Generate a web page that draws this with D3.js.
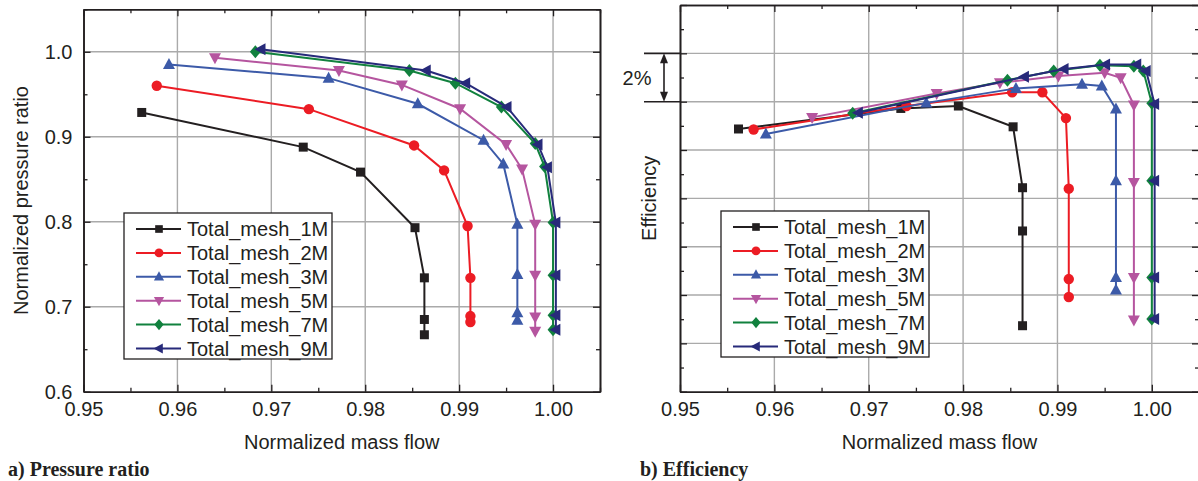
<!DOCTYPE html>
<html>
<head>
<meta charset="utf-8">
<script src="https://cdn.jsdelivr.net/npm/d3@7"></script>
<style>
  body { margin: 0; background: #fff; }
  text { font-family: "Liberation Sans", Arial, sans-serif; }
  text.caption { font-family: "Liberation Serif", "Times New Roman", serif; font-weight: bold; }
</style>
</head>
<body>
<div id="chart"></div>
<script>
// series labels
var seriesNames = ["Total_mesh_1M", "Total_mesh_2M", "Total_mesh_3M", "Total_mesh_5M", "Total_mesh_7M", "Total_mesh_9M"];

// normalized mass flow for each mesh (same operating points in both panels)
var flow1M = [0.9562, 0.9734, 0.9795, 0.9853, 0.9863, 0.9863, 0.9863];
var flow2M = [0.9578, 0.9740, 0.9852, 0.9884, 0.9909, 0.9912, 0.9912, 0.9912];
var flow3M = [0.9591, 0.9761, 0.9856, 0.9926, 0.9947, 0.9962, 0.9962, 0.9962, 0.9962];
var flow5M = [0.9640, 0.9772, 0.9839, 0.9901, 0.9950, 0.9967, 0.9981, 0.9981, 0.9981, 0.9981];
var flow7M = [0.9683, 0.9847, 0.9896, 0.9945, 0.9981, 0.9991, 1.0000, 1.0000, 1.0000, 1.0000];
var flow9M = [0.9689, 0.9865, 0.9907, 0.9951, 0.9984, 0.9994, 1.0003, 1.0003, 1.0003, 1.0003];

// normalized pressure ratio
var pr1M = [0.9286, 0.8878, 0.8584, 0.793, 0.734, 0.685, 0.667];
var pr2M = [0.960, 0.9325, 0.8898, 0.8604, 0.795, 0.734, 0.689, 0.682];
var pr3M = [0.985, 0.969, 0.9388, 0.896, 0.868, 0.797, 0.738, 0.693, 0.684];
var pr5M = [0.993, 0.978, 0.961, 0.933, 0.891, 0.862, 0.797, 0.737, 0.688, 0.671];
var pr7M = [1.000, 0.978, 0.963, 0.935, 0.892, 0.865, 0.799, 0.737, 0.690, 0.673];
var pr9M = [1.003, 0.978, 0.963, 0.935, 0.891, 0.864, 0.799, 0.737, 0.690, 0.673];

// efficiency (no labels on the axis, only the 2% bracket)
var eff1M = [0.9487, 0.9572, 0.9582, 0.9496, 0.9244, 0.9065, 0.8673];
var eff2M = [0.9485, 0.9582, 0.9639, 0.9639, 0.9532, 0.924, 0.8866, 0.8792];
var eff3M = [0.9466, 0.9595, 0.9655, 0.9672, 0.9665, 0.9570, 0.9273, 0.8872, 0.8821];
var eff5M = [0.9535, 0.9634, 0.9678, 0.9706, 0.972, 0.9699, 0.9586, 0.9266, 0.8872, 0.8697];
var eff7M = [0.9552, 0.9689, 0.9727, 0.9751, 0.9747, 0.9727, 0.9593, 0.9273, 0.8872, 0.8701];
var eff9M = [0.9554, 0.9703, 0.9735, 0.9754, 0.9754, 0.9727, 0.9590, 0.9273, 0.8872, 0.8701];

// tick values
var xTicks = [0.95, 0.96, 0.97, 0.98, 0.99, 1.00];
var xMinorTicks = [0.955, 0.965, 0.975, 0.985, 0.995, 1.005];
var prTicks = [0.6, 0.7, 0.8, 0.9, 1.0];
var prMinorTicks = [0.65, 0.75, 0.85, 0.95, 1.05];
var effTicks = [0.84, 0.86, 0.88, 0.90, 0.92, 0.94, 0.96, 0.98, 1.00];
var effMinorTicks = [0.85, 0.87, 0.89, 0.91, 0.93, 0.95, 0.97, 0.99];

var colors = ["#231f20", "#ec1c24", "#3c5aa8", "#b5559f", "#11813e", "#272a7a"];
var shapes = ["square", "circle", "up", "down", "diamond", "left"];

var flows = [flow1M, flow2M, flow3M, flow5M, flow7M, flow9M];
var prs = [pr1M, pr2M, pr3M, pr5M, pr7M, pr9M];
var effs = [eff1M, eff2M, eff3M, eff5M, eff7M, eff9M];

var width = 1198, height = 481;
var svg = d3.select("#chart").append("svg")
    .attr("width", width)
    .attr("height", height);

function markerPath(shape, s) {
    s = s || 1;
    if (shape == "up") return "M0," + (-6.5 * s) + "L" + (6 * s) + "," + (4.5 * s) + "L" + (-6 * s) + "," + (4.5 * s) + "Z";
    if (shape == "down") return "M0," + (6.5 * s) + "L" + (6 * s) + "," + (-4.5 * s) + "L" + (-6 * s) + "," + (-4.5 * s) + "Z";
    if (shape == "diamond") return "M0," + (-6.5 * s) + "L" + (5.5 * s) + ",0L0," + (6.5 * s) + "L" + (-5.5 * s) + ",0Z";
    if (shape == "left") return "M" + (-6.5 * s) + ",0L" + (4.5 * s) + "," + (-6 * s) + "L" + (4.5 * s) + "," + (6 * s) + "Z";
    if (shape == "square") return "M" + (-4.5 * s) + "," + (-4.5 * s) + "h" + (9 * s) + "v" + (9 * s) + "h" + (-9 * s) + "Z";
    // circle
    var r = 5.2 * s;
    return "M" + (-r) + ",0a" + r + "," + r + " 0 1,0 " + (2 * r) + ",0a" + r + "," + r + " 0 1,0 " + (-2 * r) + ",0Z";
}

function drawPanel(cfg) {
    var g = svg.append("g");
    var x = d3.scaleLinear().domain([0.95, 1.005]).range([cfg.left, cfg.right]);
    var y = d3.scaleLinear().domain(cfg.yDomain).range([cfg.bottom, cfg.top]);

    // grid
    g.append("g").selectAll("line")
        .data(xTicks.slice(1))
        .join("line")
        .attr("x1", d => x(d)).attr("x2", d => x(d))
        .attr("y1", cfg.top).attr("y2", cfg.bottom)
        .attr("stroke", "#aaaaaa").attr("stroke-width", 1.4);
    g.append("g").selectAll("line")
        .data(cfg.yGrid)
        .join("line")
        .attr("x1", cfg.left).attr("x2", cfg.right)
        .attr("y1", d => y(d)).attr("y2", d => y(d))
        .attr("stroke", "#aaaaaa").attr("stroke-width", 1.4);

    // series
    var line = d3.line().x(d => x(d[0])).y(d => y(d[1]));
    seriesNames.forEach(function(name, i) {
        var pts = d3.zip(flows[i], cfg.values[i]);
        g.append("path")
            .datum(pts)
            .attr("d", line)
            .attr("fill", "none")
            .attr("stroke", colors[i])
            .attr("stroke-width", 2);
        g.append("g").selectAll("path")
            .data(pts)
            .join("path")
            .attr("transform", d => "translate(" + x(d[0]) + "," + y(d[1]) + ")")
            .attr("d", markerPath(shapes[i]))
            .attr("fill", colors[i]);
    });

    // legend
    var lg = g.append("g").attr("transform", "translate(" + cfg.legendX + "," + cfg.legendY + ")");
    lg.append("rect")
        .attr("width", 208).attr("height", 146)
        .attr("fill", "#fff").attr("stroke", "#231f20").attr("stroke-width", 1.3);
    seriesNames.forEach(function(name, i) {
        var row = lg.append("g").attr("transform", "translate(0," + (16 + i * 23.9) + ")");
        row.append("line")
            .attr("x1", 12).attr("x2", 57)
            .attr("stroke", colors[i]).attr("stroke-width", 2);
        row.append("path")
            .attr("transform", "translate(35,0)")
            .attr("d", markerPath(shapes[i], 0.85))
            .attr("fill", colors[i]);
        row.append("text")
            .attr("x", 63).attr("y", 7)
            .attr("font-size", 20)
            .attr("fill", "#231f20")
            .text(name);
    });

    // axes with inward ticks on all four sides
    function styleAxis(a) {
        a.select(".domain").attr("stroke", "#231f20").attr("stroke-width", 1.6);
        a.selectAll(".tick line").attr("stroke", "#231f20").attr("stroke-width", 1.3);
        a.selectAll("text").attr("font-size", 20).attr("fill", "#231f20");
    }
    var xb = g.append("g").attr("transform", "translate(0," + cfg.bottom + ")")
        .call(d3.axisBottom(x).tickValues(xTicks).tickSizeInner(-7).tickSizeOuter(0)
            .tickPadding(10).tickFormat(d3.format(".2f")));
    styleAxis(xb);
    var xbm = g.append("g").attr("transform", "translate(0," + cfg.bottom + ")")
        .call(d3.axisBottom(x).tickValues(xMinorTicks).tickSizeInner(-4).tickSizeOuter(0).tickFormat(""));
    styleAxis(xbm);
    var xt = g.append("g").attr("transform", "translate(0," + cfg.top + ")")
        .call(d3.axisTop(x).tickValues(xTicks).tickSizeInner(-7).tickSizeOuter(0).tickFormat(""));
    styleAxis(xt);
    var xtm = g.append("g").attr("transform", "translate(0," + cfg.top + ")")
        .call(d3.axisTop(x).tickValues(xMinorTicks).tickSizeInner(-4).tickSizeOuter(0).tickFormat(""));
    styleAxis(xtm);

    var yl = g.append("g").attr("transform", "translate(" + cfg.left + ",0)")
        .call(d3.axisLeft(y).tickValues(cfg.yTicks).tickSizeInner(-7).tickSizeOuter(0)
            .tickPadding(11).tickFormat(cfg.yFormat));
    styleAxis(yl);
    var ylm = g.append("g").attr("transform", "translate(" + cfg.left + ",0)")
        .call(d3.axisLeft(y).tickValues(cfg.yMinor).tickSizeInner(-4).tickSizeOuter(0).tickFormat(""));
    styleAxis(ylm);
    var yr = g.append("g").attr("transform", "translate(" + cfg.right + ",0)")
        .call(d3.axisRight(y).tickValues(cfg.yTicks).tickSizeInner(-7).tickSizeOuter(0).tickFormat(""));
    styleAxis(yr);
    var yrm = g.append("g").attr("transform", "translate(" + cfg.right + ",0)")
        .call(d3.axisRight(y).tickValues(cfg.yMinor).tickSizeInner(-4).tickSizeOuter(0).tickFormat(""));
    styleAxis(yrm);

    // titles
    g.append("text")
        .attr("x", (cfg.left + cfg.right) / 2).attr("y", 449)
        .attr("text-anchor", "middle").attr("font-size", 20).attr("fill", "#231f20")
        .text("Normalized mass flow");
    g.append("text")
        .attr("transform", "translate(" + cfg.yTitleX + "," + (cfg.top + cfg.bottom) / 2 + ")rotate(-90)")
        .attr("text-anchor", "middle").attr("font-size", 20).attr("fill", "#231f20")
        .text(cfg.yTitle);
    g.append("text")
        .attr("class", "caption")
        .attr("x", cfg.captionX).attr("y", 476)
        .attr("font-size", 20).attr("fill", "#231f20")
        .text(cfg.caption);

    return { x: x, y: y, g: g };
}

drawPanel({
    left: 83.5, right: 600, top: 9.3, bottom: 391.7,
    yDomain: [0.6, 1.05],
    yGrid: [0.7, 0.8, 0.9, 1.0],
    yTicks: prTicks, yMinor: prMinorTicks,
    yFormat: d3.format(".1f"),
    values: prs,
    legendX: 124, legendY: 213,
    yTitle: "Normalized pressure ratio", yTitleX: 28,
    caption: "a) Pressure ratio", captionX: 8
});

var eff = drawPanel({
    left: 680, right: 1199, top: 5, bottom: 391.7,
    yDomain: [0.84, 1.00],
    yGrid: [0.86, 0.88, 0.90, 0.92, 0.94, 0.96, 0.98],
    yTicks: effTicks, yMinor: effMinorTicks,
    yFormat: "",
    values: effs,
    legendX: 721, legendY: 211,
    yTitle: "Efficiency", yTitleX: 656,
    caption: "b) Efficiency", captionX: 640
});

// 2% bracket
var yHi = eff.y(0.98), yLo = eff.y(0.96);
var bracket = svg.append("g");
[yHi, yLo].forEach(function(yy) {
    bracket.append("line")
        .attr("x1", 644).attr("x2", 680)
        .attr("y1", yy).attr("y2", yy)
        .attr("stroke", "#231f20").attr("stroke-width", 1.6);
});
bracket.append("line")
    .attr("x1", 664).attr("x2", 664)
    .attr("y1", yHi + 6).attr("y2", yLo - 6)
    .attr("stroke", "#231f20").attr("stroke-width", 1.6);
bracket.append("path")
    .attr("d", "M664," + yHi + "L660," + (yHi + 10) + "L668," + (yHi + 10) + "Z")
    .attr("fill", "#231f20");
bracket.append("path")
    .attr("d", "M664," + yLo + "L660," + (yLo - 10) + "L668," + (yLo - 10) + "Z")
    .attr("fill", "#231f20");
bracket.append("text")
    .attr("x", 637).attr("y", (yHi + yLo) / 2 + 7)
    .attr("text-anchor", "middle").attr("font-size", 20).attr("fill", "#231f20")
    .text("2%");
</script>
</body>
</html>
